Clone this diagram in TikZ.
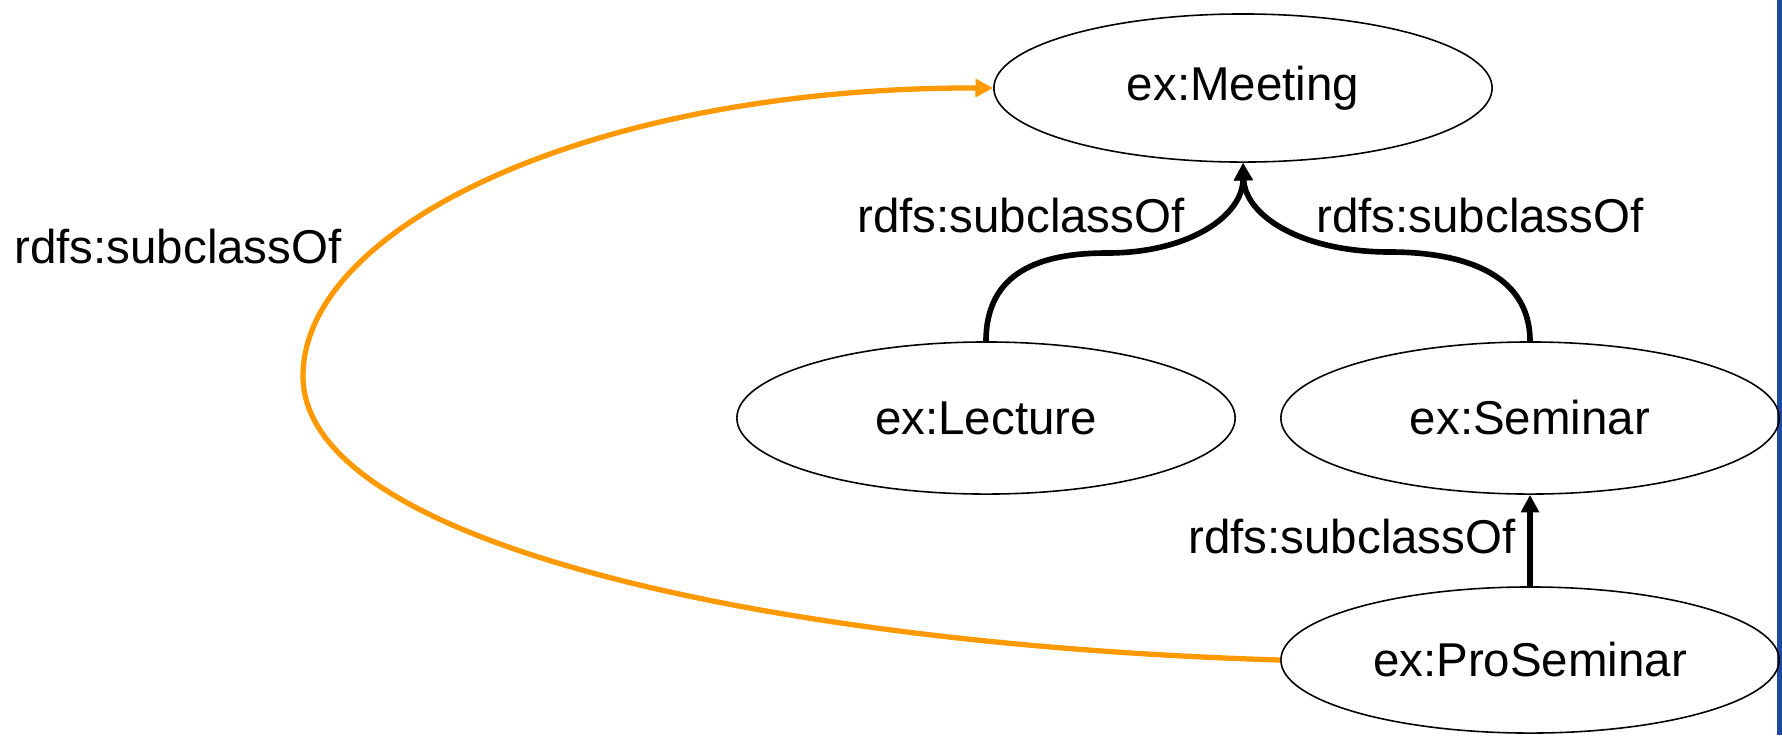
\documentclass[tikz,border=0pt]{standalone}
\usepackage{fontspec}
\setmainfont{Liberation Sans}
\usetikzlibrary{shapes.geometric}
\usetikzlibrary{arrows.meta}

\definecolor{naranja}{RGB}{255,153,0}
\definecolor{azul}{RGB}{31,73,157}

\begin{document}
\begin{tikzpicture}[x=0.01cm, y=-0.01cm]
        \tikzstyle{clase} = [draw, ellipse, line width=0.45pt, inner sep=0pt, minimum width=4.98cm, minimum height=1.52cm, font=\fontsize{13.5}{16}\selectfont]
        \tikzstyle{etiqueta} = [inner sep=0pt, font=\fontsize{13.5}{16}\selectfont]
        \tikzstyle{subclase} = [-{Triangle[length=5pt, width=5pt]}, line width=1.6pt]

        \useasboundingbox (0,0) rectangle (1782,735);
        \fill[azul] (1777,0) rectangle (1782,735);

        % Clases
        \node[clase, minimum height=1.48cm](meeting) at (1243, 88) {ex:Meeting};
        \node[clase](lecture) at (986, 418) {ex:Lecture};
        \node[clase](seminar) at (1530, 418) {ex:Seminar};
        \node[clase, minimum height=1.46cm](proseminar) at (1530, 660) {ex:ProSeminar};

        % Enlaces subclassOf
        \draw[subclase] (lecture.north) .. controls (986, 272) and (1040, 253) .. (1107, 253)
            .. controls (1190, 253) and (1243, 215) .. (meeting.south);
        \draw[subclase] (seminar.north) .. controls (1530, 272) and (1460, 252) .. (1390, 252)
            .. controls (1300, 252) and (1245, 215) .. (meeting.south);
        \draw[subclase] (proseminar.north) -- (seminar.south);
        \draw[subclase, naranja, line width=1.5pt] (proseminar.west) .. controls (781, 645) and (303, 546) .. (303, 376)
            .. controls (303, 226) and (594, 87) .. (meeting.west);

        % Textos de los enlaces
        \node[etiqueta](lbl1) at (178, 247) {rdfs:subclassOf};
        \node[etiqueta](lbl2) at (1021, 216) {rdfs:subclassOf};
        \node[etiqueta](lbl3) at (1480, 216) {rdfs:subclassOf};
        \node[etiqueta](lbl4) at (1352, 537) {rdfs:subclassOf};
\end{tikzpicture}
\end{document}
